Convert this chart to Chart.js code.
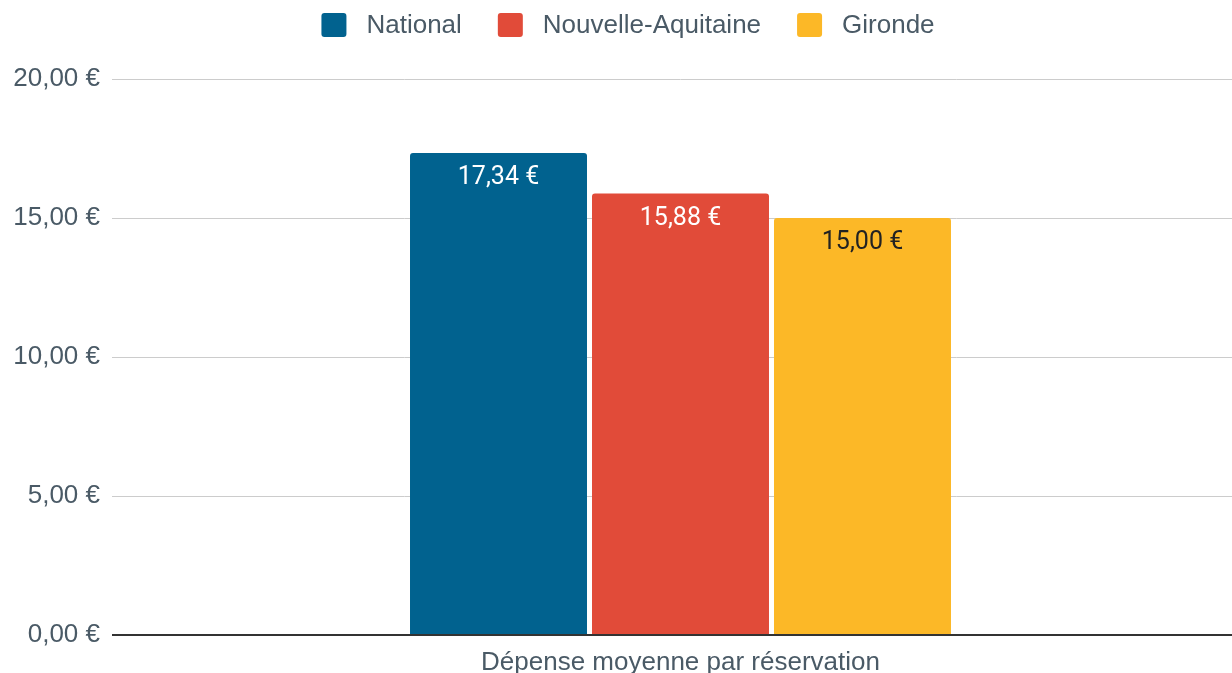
<!DOCTYPE html>
<html><head><meta charset="utf-8">
<script src="https://cdn.jsdelivr.net/npm/chart.js@4/dist/chart.umd.min.js"></script>
<style>html,body{margin:0;padding:0;background:#fff}#wrap{width:1232px;height:673px}</style>
</head><body><div id="wrap"><canvas id="c" width="1232" height="673"></canvas></div>
<script>
const categories = ["Dépense moyenne par réservation"];
const seriesNames = ["National", "Nouvelle-Aquitaine", "Gironde"];
const nationalValues = [17.34];
const nouvelleAquitaineValues = [15.88];
const girondeValues = [15.00];
const yTicks = [0, 5, 10, 15, 20];

const colors = ["#01628f", "#e14b39", "#fcb827"];
const labelColors = ["#ffffff", "#ffffff", "#222222"];
const textColor = '#4a5a66';
const FONT = "'Liberation Sans', Arial, sans-serif";
const fmt = v => v.toFixed(2).replace('.', ',') + ' €';

const dataLabels = {
  id: 'dataLabels',
  afterDatasetsDraw(chart) {
    const ctx = chart.ctx;
    ctx.save();
    ctx.font = "25px Roboto";
    ctx.textAlign = 'center';
    ctx.textBaseline = 'middle';
    chart.data.datasets.forEach((ds, i) => {
      chart.getDatasetMeta(i).data.forEach((bar, j) => {
        ctx.fillStyle = labelColors[i];
        ctx.fillText(fmt(ds.data[j]), bar.x, bar.y + 25);
      });
    });
    ctx.restore();
  }
};

const topLegend = {
  id: 'topLegend',
  afterDraw(chart) {
    const ctx = chart.ctx;
    ctx.save();
    ctx.font = "26px " + FONT;
    const box = 25, gapText = 20, gapItem = 36, cy = 25;
    const items = chart.data.datasets.map(d => ({ label: d.label, color: d.backgroundColor, w: ctx.measureText(d.label).width }));
    const total = items.reduce((s, it) => s + box + gapText + it.w, 0) + gapItem * (items.length - 1);
    let x = 628 - total / 2;
    ctx.textBaseline = 'middle';
    ctx.textAlign = 'left';
    items.forEach(it => {
      ctx.fillStyle = it.color;
      ctx.beginPath();
      ctx.roundRect(x, cy - 12, box, 24, 3);
      ctx.fill();
      ctx.fillStyle = textColor;
      ctx.fillText(it.label, x + box + gapText, cy + 1);
      x += box + gapText + it.w + gapItem;
    });
    ctx.restore();
  }
};

new Chart(document.getElementById('c'), {
  type: 'bar',
  data: {
    labels: categories,
    datasets: [
      { label: seriesNames[0], data: nationalValues, backgroundColor: colors[0] },
      { label: seriesNames[1], data: nouvelleAquitaineValues, backgroundColor: colors[1] },
      { label: seriesNames[2], data: girondeValues, backgroundColor: colors[2] }
    ].map(d => Object.assign(d, {
      categoryPercentage: 0.495, barPercentage: 0.9725,
      borderRadius: { topLeft: 3, topRight: 3, bottomLeft: 0, bottomRight: 0 },
      borderSkipped: 'bottom'
    }))
  },
  options: {
    responsive: false,
    animation: false,
    layout: { padding: { top: 79, right: 0, bottom: 0, left: 0 } },
    plugins: {
      tooltip: { enabled: false },
      legend: { display: false }
    },
    scales: {
      x: {
        afterFit(scale) { scale.height = 38; },
        grid: { display: false },
        border: { display: false },
        ticks: { color: textColor, font: { family: FONT, size: 26 }, padding: 4 }
      },
      y: {
        min: 0, max: 20,
        afterFit(scale) { scale.width = 129; },
        afterBuildTicks(scale) { scale.ticks = yTicks.map(v => ({ value: v })); },
        border: { display: false },
        grid: {
          tickLength: 17,
          color: c => c.tick && c.tick.value === 0 ? '#333333' : '#cccccc',
          lineWidth: c => c.tick && c.tick.value === 0 ? 2 : 1
        },
        ticks: {
          color: textColor, padding: 12,
          font: { family: FONT, size: 26 },
          callback: v => fmt(v)
        }
      }
    }
  },
  plugins: [dataLabels, topLegend]
});
</script></body></html>
